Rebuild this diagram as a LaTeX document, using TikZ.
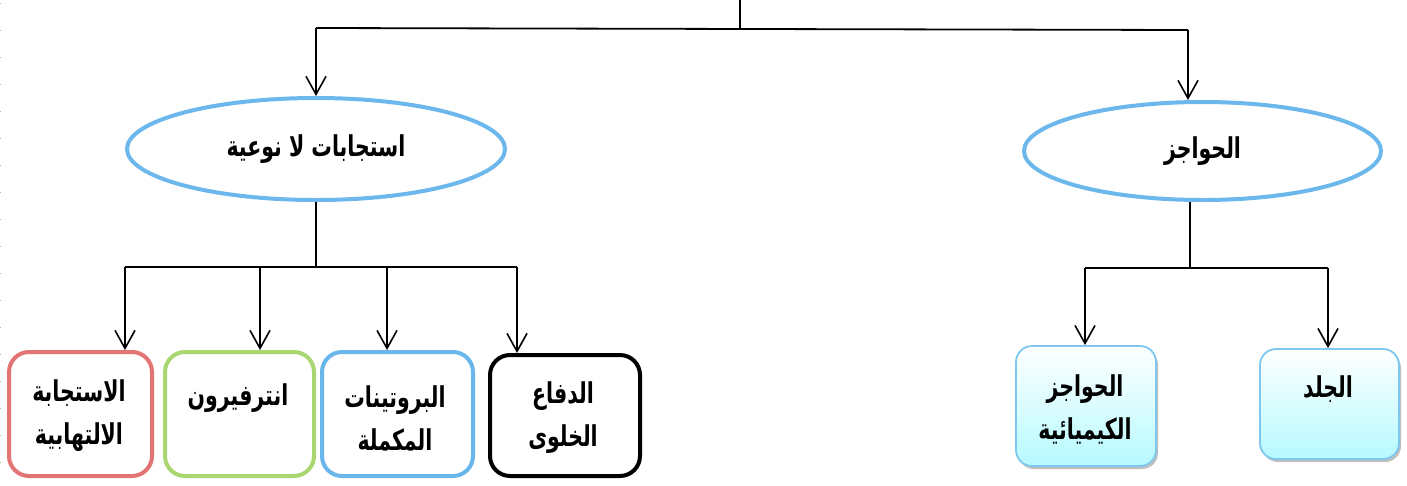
\documentclass[tikz,border=0pt]{standalone}
\usepackage{fontspec}
\usetikzlibrary{shapes.geometric,arrows.meta,shadows}
\TeXXeTstate=1
\newfontfamily\arabicfont[Script=Arabic]{DejaVu Sans}
\newcommand{\artext}[1]{\scalebox{1}[1.4]{\beginR #1\endR}}
\definecolor{ovalblue}{RGB}{108,184,236}
\definecolor{boxred}{RGB}{226,116,116}
\definecolor{boxgreen}{RGB}{170,214,112}
\definecolor{boxblue}{RGB}{104,182,236}
\definecolor{paleedge}{RGB}{126,200,240}
\definecolor{palecyan}{RGB}{182,250,255}
\definecolor{dotgreen}{RGB}{150,200,120}
\tikzset{
  wire/.style={line width=1.8pt, black},
  arr/.style={wire, -{Straight Barb[length=18pt,width=20pt,line width=1.6pt]}},
  oval/.style={ellipse, draw=ovalblue, line width=4pt, inner sep=0pt,
    font=\arabicfont\bfseries\fontsize{20.5}{24}\selectfont},
  card/.style={rectangle, rounded corners=20pt, line width=4pt, inner sep=0pt},
  softcard/.style={rectangle, rounded corners=16pt, line width=1.8pt, draw=paleedge,
    top color=white, middle color=white, bottom color=palecyan,
    drop shadow={shadow xshift=2pt, shadow yshift=-3pt, fill=black, opacity=0.25}},
  lbl/.style={font=\arabicfont\bfseries\fontsize{20.5}{43}\selectfont, align=center, inner sep=0pt}
}
\begin{document}
\begin{tikzpicture}[x=1pt,y=-1pt]
\useasboundingbox (0,0) rectangle (1407,485);
\fill[white] (0,0) rectangle (1407,485);
% page edge marker
\draw[dotgreen, line width=0.8pt, dash pattern=on 1pt off 26pt] (0.5,3) -- (0.5,485);

% first level
\node[oval, minimum width=378pt, minimum height=102pt] (nonspec) at (316,149)
  {\artext{استجابات لا نوعية}};
\node[oval, minimum width=357pt, minimum height=98pt] (barrier) at (1202.5,151)
  {\artext{الحواجز}};

% second level, left branch
\node[card, draw=boxred, minimum width=143pt, minimum height=124pt] (inflam) at (80.5,414) {};
\node[card, draw=boxgreen, minimum width=149pt, minimum height=124pt] (interf) at (239.5,414) {};
\node[card, draw=boxblue, minimum width=151pt, minimum height=124pt] (compl) at (397.5,414) {};
\node[card, draw=black, minimum width=150pt, minimum height=121pt] (cellular) at (565,415.5) {};

\node[lbl] (inflamtxt) at (79,416) {\artext{الاستجابة}\\\artext{الالتهابية}};
\node[lbl] (interftxt) at (238,398) {\artext{انترفيرون}};
\node[lbl] (compltxt) at (395,418) {\artext{البروتينات}\\\artext{المكملة}};
\node[lbl] (celltxt) at (563,418) {\artext{الدفاع}\\\artext{الخلوى}};

% second level, right branch
\node[softcard, minimum width=140pt, minimum height=120pt] (chem) at (1086,406) {};
\node[softcard, minimum width=139pt, minimum height=110pt] (skin) at (1329.5,404) {};
\node[lbl] (chemtxt) at (1085,409) {\artext{الحواجز}\\\artext{الكيميائية}};
\node[lbl] (skintxt) at (1328,389) {\artext{الجلد}};

% top connectors
\coordinate (top) at (740,0);
\coordinate (hub) at (740,29);
\coordinate (lj) at (316,28);
\coordinate (rj) at (1188,30);
\draw[wire] (top) -- (hub);
\draw[wire] (lj) -- (rj);
\draw[arr] (lj) -- (lj |- nonspec.north);
\draw[arr] (rj) -- (rj |- barrier.north);

% left branch connectors
\coordinate (lhub) at (316,267);
\coordinate (l1) at (125,267);
\coordinate (l2) at (260,267);
\coordinate (l3) at (387,267);
\coordinate (l4) at (517,267);
\draw[wire] (nonspec.south) -- (lhub);
\draw[wire] (l1) -- (l4);
\draw[arr] (l1) -- (l1 |- inflam.north);
\draw[arr] (l2) -- (l2 |- interf.north);
\draw[arr] (l3) -- (l3 |- compl.north);
\draw[arr] (l4) -- (l4 |- cellular.north);

% right branch connectors
\coordinate (rhub) at (1190,268);
\coordinate (r1) at (1085,268);
\coordinate (r2) at (1328,268);
\draw[wire] (barrier.south -| rhub) -- (rhub);
\draw[wire] (r1) -- (r2);
\draw[arr] (r1) -- (r1 |- chem.north);
\draw[arr] (r2) -- (r2 |- skin.north);
\end{tikzpicture}
\end{document}
